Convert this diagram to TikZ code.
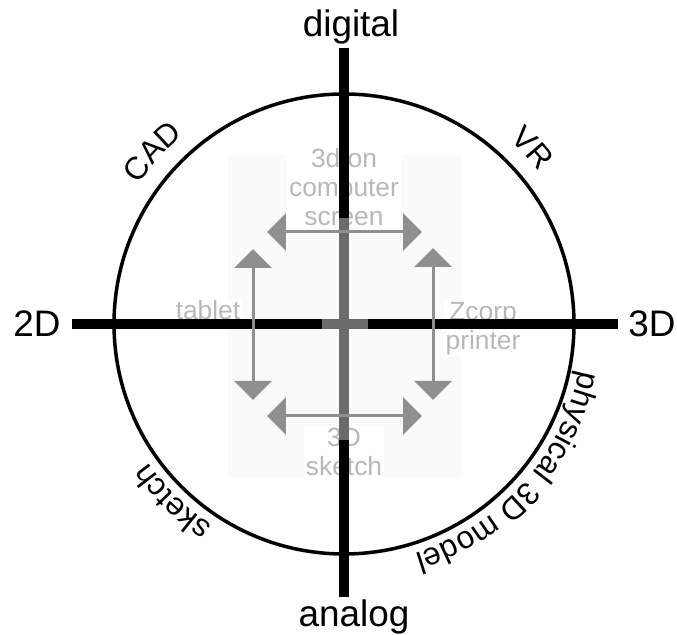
\documentclass[tikz,border=0pt]{standalone}
\usepackage{fontspec}
\setmainfont{Liberation Sans}
\usetikzlibrary{arrows.meta,decorations.text}
\definecolor{bargray}{gray}{0.42}
\definecolor{tipgray}{gray}{0.56}
\definecolor{notegray}{gray}{0.72}
\definecolor{patchgray}{gray}{0.982}

\begin{document}
\begin{tikzpicture}[x=0.02cm, y=0.02cm,
    axislabel/.style={font=\fontsize{21}{25}\selectfont, inner sep=0pt, anchor=base},
    notelabel/.style={font=\fontsize{15}{16.5}\selectfont, text=notegray, fill=white, align=center, inner sep=1pt},
    axisline/.style={line width=0.2cm},
    graybar/.style={line width=0.2cm, bargray},
    twoway/.style={tipgray, line width=0.06cm, {Triangle[length=0.38cm,width=0.74cm]}-{Triangle[length=0.38cm,width=0.74cm]}},
    arclabel/.style={decorate, decoration={text along path, text align=center, text={|\fontsize{18}{21}\selectfont|#1}}},
]
    \useasboundingbox (0,0) rectangle (677,635);
    \coordinate (O) at (344,311);

    % pasted inset
    \fill[patchgray] (228,157) rectangle (462,480);
    \node[notelabel] (screen) at (344,448) {3d on\\computer\\screen};
    \node[notelabel, anchor=base] (tablet) at (208,315) {tablet};
    \node[notelabel] (zcorp) at (483,306) {Zcorp\\printer};
    \node[notelabel] (sketch3d) at (344,183) {3D\\sketch};

    \draw[line width=0.07cm] (O) circle[radius=230];

    % axes
    \coordinate (axW) at (72,311);
    \coordinate (axE) at (618,311);
    \coordinate (axN) at (344,587);
    \coordinate (axS) at (344,38);
    \draw[axisline] (axW) -- (axE);
    \draw[axisline] (axN) -- (axS);

    \coordinate (barN) at (344,417);
    \coordinate (barS) at (344,195);
    \coordinate (barW) at (322,311);
    \coordinate (barE) at (368,311);
    \draw[graybar] (barN) -- (barS);
    \draw[graybar] (barW) -- (barE);

    % arrows
    \coordinate (topL) at (267,403);
    \coordinate (topR) at (422,403);
    \coordinate (botL) at (267,219);
    \coordinate (botR) at (422,219);
    \coordinate (lftT) at (253,386);
    \coordinate (lftB) at (253,235);
    \coordinate (rgtT) at (433,387);
    \coordinate (rgtB) at (433,235);
    \foreach \a/\b in {topL/topR, botL/botR, lftT/lftB, rgtT/rgtB}
        \draw[twoway] (\a) -- (\b);

    \node[axislabel] (digital) at (351,598) {digital};
    \node[axislabel] (analog) at (354,8) {analog};
    \node[axislabel] (twoD) at (37,298) {2D};
    \node[axislabel] (threeD) at (652,298) {3D};

    \path[arclabel=CAD] (O) ++(168:248) arc[start angle=168, end angle=108, radius=248];
    \path[arclabel=VR] (O) ++(73:248) arc[start angle=73, end angle=13, radius=248];
    \path[arclabel=sketch] (O) ++(256:240) arc[start angle=256, end angle=196, radius=240];
    \path[arclabel=physical 3D model] (O) ++(3:240) arc[start angle=3, end angle=-87, radius=240];
\end{tikzpicture}
\end{document}
